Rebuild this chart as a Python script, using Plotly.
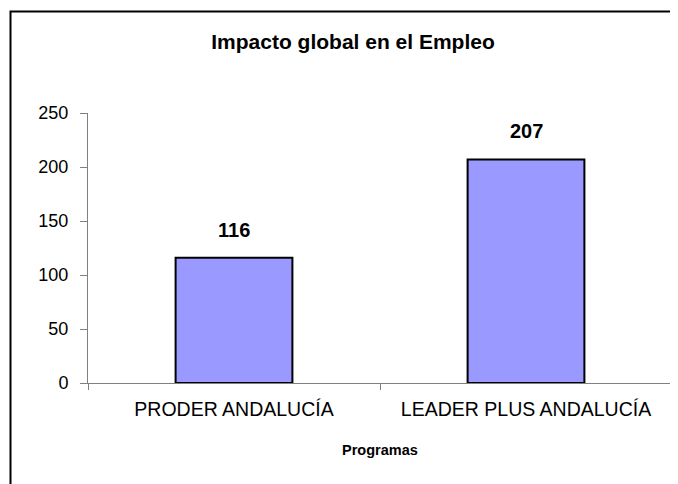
import plotly.graph_objects as go

categories = ["PRODER ANDALUCÍA", "LEADER PLUS ANDALUCÍA"]
values = [116, 207]
y_ticks = [0, 50, 100, 150, 200, 250]

# page body has an 8px margin, so the figure is drawn 8px in
W, H = 670, 476
L, R, T, B = 80, 6, 105, 101
pw = W - L - R
ph = H - T - B
FONT = "Liberation Sans, Arial"

fig = go.Figure()
fig.add_trace(go.Bar(
    x=categories, y=values,
    marker=dict(color="#9999FF", line=dict(color="black", width=2)),
    width=0.4,
    hoverinfo="skip",
))

annotations = []
for c, v in zip(categories, values):
    annotations.append(dict(
        x=c, y=v, xref="x", yref="y", text=f"<b>{v}</b>", showarrow=False,
        yanchor="bottom", yshift=15, font=dict(size=20, family=FONT, color="black"),
    ))
annotations.append(dict(
    x=0.5, xref="paper", y=(375 - 442) / ph, yref="paper", text="<b>Programas</b>",
    showarrow=False, yanchor="middle", xanchor="center",
    font=dict(size=14.5, family=FONT, color="black"),
))

fig.update_layout(
    width=W, height=H,
    margin=dict(l=L, r=R, t=T, b=B),
    paper_bgcolor="white", plot_bgcolor="white",
    showlegend=False,
    font=dict(family=FONT, color="black"),
    title=dict(text="<b>Impacto global en el Empleo</b>", x=(353 - 8) / W, xanchor="center",
               y=1 - 34 / H, yanchor="middle",
               font=dict(size=21, family=FONT, color="black")),
    xaxis=dict(
        showline=True, linecolor="#808080", linewidth=1,
        ticks="outside", tickson="boundaries", ticklen=6, tickcolor="#808080",
        tickfont=dict(size=19.5), showgrid=False, ticklabelstandoff=9,
    ),
    yaxis=dict(
        range=[0, 250], tickvals=y_ticks,
        showline=True, linecolor="#808080", linewidth=1,
        ticks="outside", ticklen=7, tickcolor="#808080",
        tickfont=dict(size=18), showgrid=False, zeroline=False,
        ticklabelstandoff=8,
    ),
    annotations=annotations,
    shapes=[dict(
        type="rect", xref="paper", yref="paper",
        x0=(2.5 - L) / pw, x1=(W + 20 - L) / pw,
        y0=(H - B - (H + 20)) / ph, y1=(H - B - 3.5) / ph,
        line=dict(color="black", width=2), fillcolor="rgba(0,0,0,0)",
        layer="below",
    )],
)

fig.write_html("out.html")
